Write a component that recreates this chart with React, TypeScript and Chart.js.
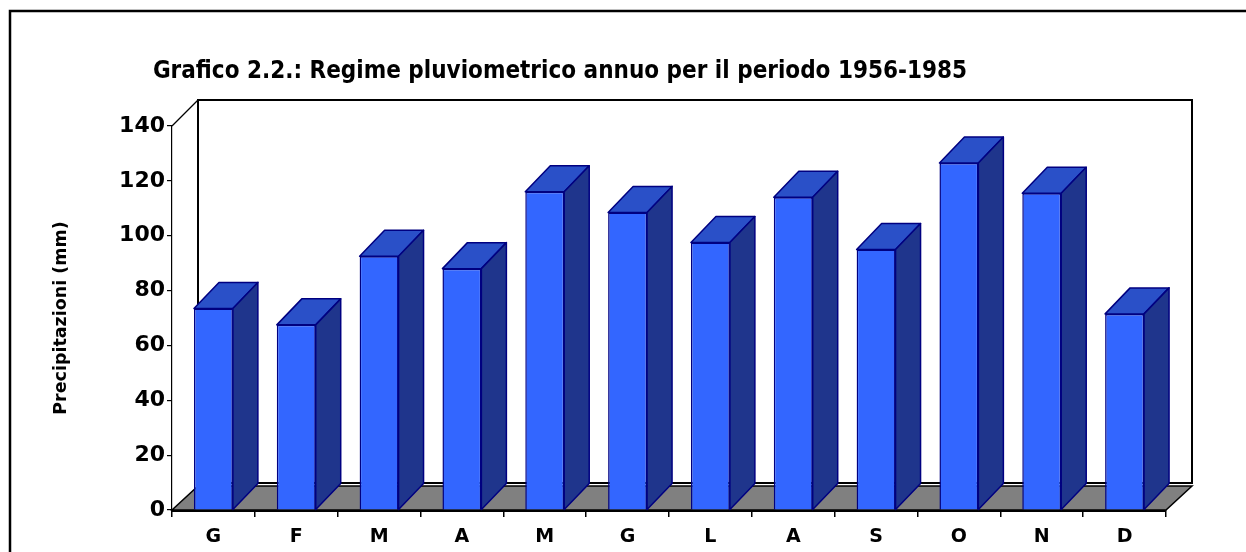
import React, { useEffect, useRef } from "react";
import { Chart, registerables } from "chart.js";

Chart.register(...registerables);

const months = ["G", "F", "M", "A", "M", "G", "L", "A", "S", "O", "N", "D"];
const rainfall = [73.5, 67.5, 92.5, 88, 116, 108.5, 97.5, 114, 95, 126.5, 115.5, 71.5];
const yMin = 0;
const yMax = 140;
const yStep = 20;
const chartTitle = "Grafico 2.2.: Regime pluviometrico annuo per il periodo 1956-1985";
const yAxisTitle = "Precipitazioni (mm)";

const FRONT = "#3366ff";
const TOP = "#2a50c8";
const SIDE = "#1f358c";
const EDGE = "#000080";

const WALL_DX = 26;
const WALL_DY = 26;
const BAR_DX = 25;
const BAR_DY = 26;

const frame3d = {
  id: "frame3d",
  beforeDraw(chart: any) {
    const ctx = chart.ctx;
    ctx.save();
    ctx.strokeStyle = "#000";
    ctx.lineWidth = 2.5;
    ctx.strokeRect(10, 11, 1400, 700);
    ctx.fillStyle = "#000";
    ctx.font = 'bold 24px "DejaVu Sans Condensed", "DejaVu Sans", sans-serif';
    ctx.textAlign = "center";
    ctx.textBaseline = "middle";
    ctx.fillText(chartTitle, 560, 72);
    ctx.restore();
  },
  beforeDatasetsDraw(chart: any) {
    const { left, right, top, bottom } = chart.chartArea;
    const ctx = chart.ctx;
    ctx.save();
    // back wall
    ctx.strokeStyle = "#000";
    ctx.lineWidth = 2;
    ctx.strokeRect(left + WALL_DX, top - WALL_DY, right - left, bottom - top - 1);
    // diagonal top-left
    ctx.lineWidth = 1.2;
    ctx.beginPath();
    ctx.moveTo(left, top);
    ctx.lineTo(left + WALL_DX, top - WALL_DY);
    ctx.stroke();
    // floor
    ctx.beginPath();
    ctx.moveTo(left, bottom);
    ctx.lineTo(right, bottom);
    ctx.lineTo(right + WALL_DX, bottom - 24);
    ctx.lineTo(left + WALL_DX, bottom - 24);
    ctx.closePath();
    ctx.fillStyle = "#808080";
    ctx.fill();
    ctx.lineWidth = 1.5;
    ctx.stroke();
    ctx.restore();
  },
  afterDatasetsDraw(chart: any) {
    const ctx = chart.ctx;
    const meta = chart.getDatasetMeta(0);
    ctx.save();
    ctx.lineWidth = 1.5;
    ctx.strokeStyle = EDGE;
    ctx.lineJoin = "round";
    meta.data.forEach((bar: any) => {
      const { x, y, base, width } = bar.getProps(["x", "y", "base", "width"], true);
      const l = x - width / 2;
      const r = x + width / 2;
      // top face
      ctx.beginPath();
      ctx.moveTo(l, y);
      ctx.lineTo(r, y);
      ctx.lineTo(r + BAR_DX, y - BAR_DY);
      ctx.lineTo(l + BAR_DX, y - BAR_DY);
      ctx.closePath();
      ctx.fillStyle = TOP;
      ctx.fill();
      ctx.stroke();
      // side face
      ctx.beginPath();
      ctx.moveTo(r, y);
      ctx.lineTo(r + BAR_DX, y - BAR_DY);
      ctx.lineTo(r + BAR_DX, base - BAR_DY);
      ctx.lineTo(r, base);
      ctx.closePath();
      ctx.fillStyle = SIDE;
      ctx.fill();
      ctx.stroke();
    });
    ctx.restore();
  },
};

export default function App() {
  const canvasRef = useRef<HTMLCanvasElement | null>(null);

  useEffect(() => {
    if (!canvasRef.current) return;
    const chart = new Chart(canvasRef.current, {
      type: "bar",
      data: {
        labels: months,
        datasets: [
          {
            data: rainfall,
            backgroundColor: FRONT,
            borderColor: EDGE,
            borderWidth: 1.5,
            categoryPercentage: 1,
            barPercentage: 0.47,
          },
        ],
      },
      options: {
        animation: false,
        responsive: true,
        maintainAspectRatio: false,
        layout: { padding: { top: 126, right: 80, left: 0, bottom: 0 } },
        plugins: {
          legend: { display: false },
          title: { display: false },
          tooltip: { enabled: false },
        },
        scales: {
          x: {
            afterFit: (s: any) => {
              s.height = 42;
            },
            border: { display: true, color: "#000", width: 3 },
            grid: {
              display: true,
              drawOnChartArea: false,
              drawTicks: true,
              tickLength: 7,
              color: "#000",
              lineWidth: 1.5,
            },
            ticks: {
              color: "#000",
              padding: 9,
              font: { family: '"DejaVu Sans", sans-serif', size: 19, weight: "bold" },
            },
          },
          y: {
            min: yMin,
            max: yMax,
            afterFit: (s: any) => {
              s.width = 172;
            },
            border: { display: true, color: "#000", width: 1.2 },
            grid: {
              display: true,
              drawOnChartArea: false,
              drawTicks: true,
              tickLength: 5,
              color: "#000",
              lineWidth: 1.2,
            },
            ticks: {
              stepSize: yStep,
              color: "#000",
              padding: 2,
              font: { family: '"DejaVu Sans", sans-serif', size: 22, weight: "bold" },
            },
            title: {
              display: true,
              text: yAxisTitle,
              color: "#000",
              padding: { top: 51, bottom: 0 },
              font: { family: '"DejaVu Sans", sans-serif', size: 17.5, weight: "bold" },
            },
          },
        },
      },
      plugins: [frame3d],
    });
    return () => chart.destroy();
  }, []);

  return (
    <div style={{ position: "fixed", left: 0, top: 0, width: 1246, height: 552, background: "#fff" }}>
      <canvas ref={canvasRef} />
    </div>
  );
}
